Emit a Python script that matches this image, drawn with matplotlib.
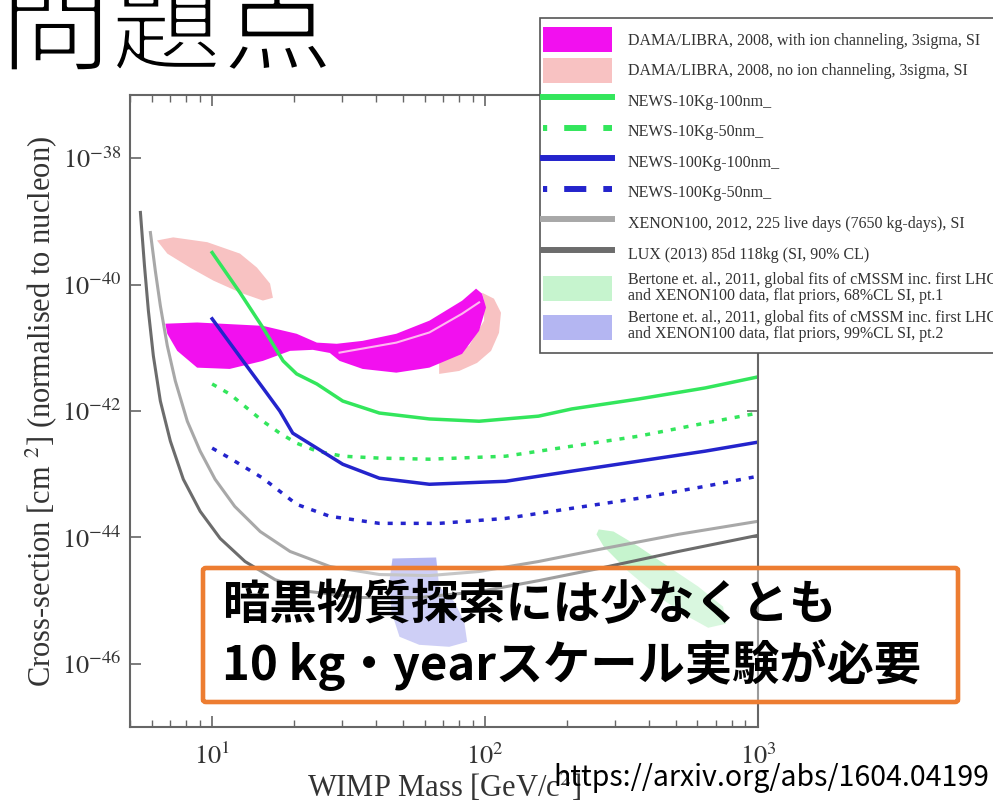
import math
import matplotlib.pyplot as plt
import matplotlib.patheffects as pe
from matplotlib.lines import Line2D
from matplotlib.patches import Patch, FancyBboxPatch, Rectangle
from matplotlib.ticker import FixedLocator, LogLocator, FuncFormatter, NullFormatter

plt.rcParams['mathtext.fontset'] = 'stix'
SERIF = 'Liberation Serif'
JP = ['Noto Sans CJK JP', 'DejaVu Sans']

# ---- limit curves: WIMP mass [GeV] vs SI cross-section [cm^2] ----
lux_mass = [5.46, 5.65, 5.84, 6.09, 6.46, 7.03, 7.84, 9.04, 10.7, 13.2, 17.0, 22.8,
            34.7, 57.4, 95.1, 157, 261, 511, 1000]
lux_xs = [1.39e-39, 2.0e-40, 3.86e-41, 7.46e-42, 1.44e-42, 3.34e-43, 8.34e-44, 2.59e-44,
          9.64e-45, 4.16e-45, 2.15e-45, 1.39e-45, 1.12e-45, 1.12e-45, 1.39e-45, 2.07e-45,
          3.22e-45, 6.0e-45, 1.08e-44]

xenon_mass = [5.94, 6.19, 6.46, 6.85, 7.33, 8.11, 9.04, 10.25, 12.1, 15.0, 19.3, 27.0,
              41.0, 62.5, 95.1, 157, 261, 511, 1000]
xenon_xs = [6.68e-40, 1.67e-40, 4.64e-41, 1.08e-41, 2.99e-42, 6.9e-43, 2.32e-43, 8.34e-44,
            3.1e-44, 1.24e-44, 6.0e-45, 3.47e-45, 2.59e-45, 2.49e-45, 2.89e-45, 4.16e-45,
            6.45e-45, 1.12e-44, 1.8e-44]

news10_100_mass = [10, 12.65, 15.35, 18.2, 20.4, 24.2, 30.1, 41.0, 62.5, 95.1, 157, 208,
                   365, 641, 1000]
news10_100_xs = [3.22e-40, 7.46e-41, 2.08e-41, 6.22e-42, 3.87e-42, 2.68e-42, 1.44e-42,
                 9.3e-43, 7.5e-43, 6.9e-43, 8.3e-43, 1.08e-42, 1.55e-42, 2.32e-42, 3.47e-42]

news10_50_mass = [10, 11.6, 13.4, 15.35, 17.7, 20.4, 24.2, 30.1, 41.0, 62.5, 119, 208,
                  365, 641, 1000]
news10_50_xs = [2.68e-42, 1.86e-42, 1.12e-42, 6.9e-43, 4.47e-43, 3.1e-43, 2.32e-43,
                1.93e-43, 1.8e-43, 1.73e-43, 1.93e-43, 2.78e-43, 4.0e-43, 6.45e-43, 9.3e-43]

news100_100_mass = [10, 12.97, 15.35, 17.7, 19.74, 24.2, 30.1, 41.0, 62.5, 119, 208, 365,
                    641, 1000]
news100_100_xs = [2.88e-41, 6.22e-42, 2.32e-42, 1.0e-42, 4.47e-43, 2.59e-43, 1.44e-43,
                  8.65e-44, 6.94e-44, 7.74e-44, 1.12e-43, 1.61e-43, 2.32e-43, 3.22e-43]

news100_50_mass = [10, 11.6, 15.35, 20.4, 27.0, 41.0, 67.9, 119, 208, 365, 641, 1000]
news100_50_xs = [2.59e-43, 1.8e-43, 8.65e-44, 3.34e-44, 2.16e-44, 1.67e-44, 1.67e-44,
                 2.0e-44, 2.89e-44, 4.16e-44, 6.45e-44, 9.3e-44]

# ---- allowed regions (closed contours) ----
dama_noion_mass = [6.28, 7.2, 9.6, 12.65, 14.6, 16.3, 16.7, 15.35, 12.65, 10.1, 8.3, 6.85]
dama_noion_xs = [5.0e-40, 5.6e-40, 4.7e-40, 3.1e-40, 1.86e-40, 1.04e-40, 6.2e-41, 5.6e-41,
                 7.5e-41, 1.16e-40, 1.86e-40, 3.1e-40]

dama_noion_hi_mass = [97.5, 107.8, 114.4, 112.5, 105.2, 93.5, 80.4, 67.9, 67.9, 87.4, 99.2, 99.2]
dama_noion_hi_xs = [7.46e-41, 6.0e-41, 3.6e-41, 1.73e-41, 8.96e-42, 5.78e-42, 4.31e-42,
                    3.87e-42, 6.22e-42, 1.08e-41, 2.69e-41, 5.57e-41]

dama_ion_mass = [6.74, 8.81, 15.35, 20.4, 24.2, 28.6, 35.6, 47.3, 62.5, 82.4, 92.7, 97.5,
                 100.8, 95.1, 82.4, 62.5, 47.3, 35.6, 29.3, 27.0, 23.4, 19.3, 15.35, 11.6,
                 8.81, 7.45, 6.85]
dama_ion_xs = [2.41e-41, 2.52e-41, 2.23e-41, 1.67e-41, 1.21e-41, 1.16e-41, 1.29e-41,
               1.67e-41, 2.69e-41, 5.57e-41, 8.65e-41, 7.2e-41, 4.36e-41, 1.86e-41, 8.03e-42,
               4.86e-42, 4.05e-42, 4.64e-42, 6.22e-42, 8.3e-42, 9.3e-42, 8.96e-42, 6.22e-42,
               4.64e-42, 4.86e-42, 8.96e-42, 1.67e-41]

dama_ridge_mass = [29.3, 47.3, 62.5, 82.4, 95.1]
dama_ridge_xs = [8.4e-42, 1.21e-41, 1.75e-41, 3.47e-41, 5.24e-41]

bertone68_mass = [261, 295.7, 365, 469, 604, 745, 764, 657, 555, 431, 335, 272, 256]
bertone68_xs = [1.34e-44, 1.24e-44, 7.2e-45, 3.47e-45, 1.67e-45, 8.03e-46, 4.31e-46,
                3.72e-46, 5.57e-46, 1.16e-45, 2.89e-45, 7.2e-45, 1.12e-44]

bertone99_mass = [45.8, 66.2, 67.9, 77.1, 83.9, 86.0, 73.9, 57.4, 48.6, 45.4, 44.6]
bertone99_xs = [4.64e-45, 4.82e-45, 1.67e-45, 9.64e-46, 4.64e-46, 2.23e-46, 1.86e-46,
                2.0e-46, 2.68e-46, 6.68e-46, 2.0e-45]

labels = [
    'DAMA/LIBRA, 2008, with ion channeling, 3sigma, SI',
    'DAMA/LIBRA, 2008, no ion channeling, 3sigma, SI',
    'NEWS-10Kg-100nm_',
    'NEWS-10Kg-50nm_',
    'NEWS-100Kg-100nm_',
    'NEWS-100Kg-50nm_',
    'XENON100, 2012, 225 live days (7650 kg-days), SI',
    'LUX (2013) 85d 118kg (SI, 90% CL)',
    'Bertone et. al., 2011, global fits of cMSSM inc. first LHC\n'
    'and XENON100 data, flat priors, 68%CL SI, pt.1',
    'Bertone et. al., 2011, global fits of cMSSM inc. first LHC\n'
    'and XENON100 data, flat priors, 99%CL SI, pt.2',
]

magenta = '#f210ef'
pink = '#f8c2c2'
green = '#33e65c'
blue = '#2424cc'
xenon_c = '#a8a8a8'
lux_c = '#6c6c6c'
bert_green = '#c6f4ce'
bert_blue = '#b4b6f2'
dotted = (0, (1.45, 2.3))

fig = plt.figure(figsize=(9.93, 8.07), dpi=100)
ax = fig.add_axes([0.1309, 0.0991, 0.6324, 0.7831])
ax.set_xscale('log')
ax.set_yscale('log')

ax.fill(bertone68_mass, bertone68_xs, color=bert_green, lw=0)
ax.fill(bertone99_mass, bertone99_xs, color=bert_blue, lw=0)
ax.fill(dama_noion_mass, dama_noion_xs, color=pink, lw=0)
ax.fill(dama_noion_hi_mass, dama_noion_hi_xs, color=pink, lw=0)
ax.fill(dama_ion_mass, dama_ion_xs, color=magenta, lw=0)
ax.plot(dama_ridge_mass, dama_ridge_xs, color='#ffb8f0', lw=1.5)

ax.plot(xenon_mass, xenon_xs, color=xenon_c, lw=2.2)
ax.plot(lux_mass, lux_xs, color=lux_c, lw=2.2)
ax.plot(news10_100_mass, news10_100_xs, color=green, lw=2.5)
ax.plot(news10_50_mass, news10_50_xs, color=green, lw=2.5, ls=dotted)
ax.plot(news100_100_mass, news100_100_xs, color=blue, lw=2.5)
ax.plot(news100_50_mass, news100_50_xs, color=blue, lw=2.5, ls=dotted)

ax.set_xlim(5, 1000)
ax.set_ylim(1e-47, 1e-37)

ax.xaxis.set_major_locator(FixedLocator([10, 100, 1000]))
ax.xaxis.set_minor_locator(LogLocator(base=10, subs=range(2, 10)))
ax.xaxis.set_minor_formatter(NullFormatter())
ax.yaxis.set_major_locator(FixedLocator([1e-46, 1e-44, 1e-42, 1e-40, 1e-38]))
ax.yaxis.set_minor_locator(FixedLocator([]))
exp_fmt = FuncFormatter(lambda v, pos: r'$10^{%d}$' % round(math.log10(v)))
ax.xaxis.set_major_formatter(exp_fmt)
ax.yaxis.set_major_formatter(exp_fmt)

ax.tick_params(which='both', direction='in', top=True, right=True, color='#666666',
               labelsize=19, labelcolor='#333333')
ax.tick_params(which='major', length=8, width=1.2)
ax.tick_params(which='minor', length=5, width=1.0)
ax.tick_params(axis='x', pad=12)
ax.tick_params(axis='y', pad=6)
for sp in ax.spines.values():
    sp.set_color('#666666')
    sp.set_linewidth(1.5)

ax.set_xlabel('WIMP Mass [GeV/c$^{2}$]', family=SERIF, fontsize=22, color='#333333',
              labelpad=1)
ax.set_ylabel('Cross-section [cm $^{2}$] (normalised to nucleon)', family=SERIF,
              fontsize=22, color='#333333', labelpad=2)

# legend: drawn without its own frame, boxed by a separate rectangle
handles = [
    Patch(facecolor=magenta, edgecolor='none'),
    Patch(facecolor=pink, edgecolor='none'),
    Line2D([], [], color=green, lw=4.3),
    Line2D([], [], color=green, lw=4.3, ls=(3.0, (3.7, 2.85))),
    Line2D([], [], color=blue, lw=4.3),
    Line2D([], [], color=blue, lw=4.3, ls=(3.0, (3.7, 2.85))),
    Line2D([], [], color=xenon_c, lw=4.3),
    Line2D([], [], color=lux_c, lw=4.3),
    Patch(facecolor=bert_green, edgecolor='none'),
    Patch(facecolor=bert_blue, edgecolor='none'),
]
legend_frame = Rectangle((540 / 993, 1 - 353 / 807), 0.6, 335 / 807, transform=fig.transFigure,
                         facecolor='white', edgecolor='#555555', linewidth=1.2, zorder=4.9)
fig.patches.append(legend_frame)
leg = fig.legend(handles, labels, loc='upper left', bbox_to_anchor=(543 / 993, 1 - 27 / 807),
                 borderaxespad=0, borderpad=0, prop={'family': SERIF, 'size': 11.5},
                 frameon=False, handlelength=4.32, handleheight=2.03, handletextpad=1.0,
                 labelspacing=0.35, labelcolor='#333333')
for t in leg.get_texts():
    t.set_linespacing(1.05)

# slide title and note box
title = fig.text(0.0, 0.963, '問題点', fontsize=80, family=JP, ha='left', va='center')
title.set_path_effects([pe.Normal(), pe.Stroke(linewidth=2.2, foreground='white')])
box = FancyBboxPatch((203 / 993, 1 - 702 / 807), 755 / 993, 134 / 807,
                     boxstyle='round,pad=0,rounding_size=0.003', transform=fig.transFigure,
                     facecolor=(1, 1, 1, 0.35), edgecolor='#ED7D31', linewidth=3.3, zorder=10)
fig.patches.append(box)
fig.text(0.2236, 0.2503, '暗黒物質探索には少なくとも', fontsize=34, fontweight='bold',
         family=JP, va='center', ha='left', zorder=11)
fig.text(0.2236, 0.176, '10 kg・yearスケール実験が必要', fontsize=34, fontweight='bold',
         family=JP, va='center', ha='left', zorder=11)
fig.text(0.557, 0.036, 'https://arxiv.org/abs/1604.04199', fontsize=20.5, family=JP,
         va='center', ha='left', zorder=11)

fig.savefig('out.png', dpi=100)
